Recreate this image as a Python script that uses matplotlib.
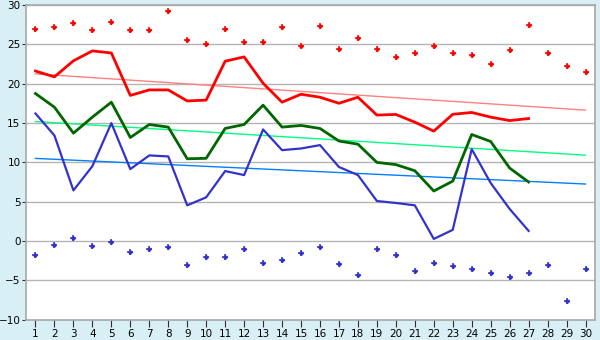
import matplotlib
matplotlib.use("Agg")
import matplotlib.pyplot as plt
import numpy as np

# Daily temperatures for one month
days = list(range(1, 31))

max_points = [27.0, 27.2, 27.7, 26.8, 27.8, 26.8, 26.8, 29.2, 25.6, 25.0,
              27.0, 25.3, 25.3, 27.2, 24.75, 27.3, 24.4, 25.8, 24.4, 23.35,
              23.9, 24.75, 23.9, 23.7, 22.5, 24.25, 27.5, 23.9, 22.2, 21.45]

min_points = [-1.8, -0.52, 0.37, -0.65, -0.13, -1.4, -1.02, -0.77, -3.06, -2.04,
              -2.04, -1.02, -2.8, -2.42, -1.53, -0.77, -2.93, -4.33, -1.02, -1.8,
              -3.8, -2.8, -3.18, -3.56, -4.07, -4.58, -4.07, -3.06, -7.63, -3.56]

high_line = [21.6, 20.86, 22.9, 24.16, 23.9, 18.5, 19.2, 19.2, 17.8, 17.9,
             22.85, 23.4, 20.05, 17.64, 18.65, 18.27, 17.5, 18.27, 16.0, 16.08,
             15.1, 13.96, 16.1, 16.33, 15.74, 15.3, 15.56]

mean_line = [18.74, 17.0, 13.7, 15.74, 17.64, 13.15, 14.8, 14.47, 10.44, 10.5,
             14.3, 14.8, 17.26, 14.47, 14.68, 14.3, 12.7, 12.3, 9.98, 9.7,
             8.92, 6.34, 7.6, 13.53, 12.64, 9.26, 7.49]

low_line = [16.2, 13.4, 6.42, 9.5, 14.98, 9.13, 10.87, 10.74, 4.52, 5.54,
            8.88, 8.37, 14.17, 11.54, 11.75, 12.18, 9.4, 8.37, 5.07, 4.82,
            4.52, 0.25, 1.4, 11.67, 7.36, 4.06, 1.27]

# Normal-value trend lines: value on the first and last day
trend_days = [1, 30]
high_trend = [21.24, 16.63]
mean_trend = [15.18, 10.9]
low_trend = [10.49, 7.23]

y_ticks = [-10, -5, 0, 5, 10, 15, 20, 25, 30]

plt.rcParams['font.family'] = ['DejaVu Sans']

fig = plt.figure(figsize=(6.0, 3.4), dpi=100, facecolor='#d9eff6')
ax = fig.add_axes([26 / 600, 1 - 319.5 / 340, 569 / 600, 314.5 / 340])
ax.set_facecolor('white')

ax.set_xlim(0.5, 30.5)
ax.set_ylim(-10, 30)
ax.set_yticks(y_ticks)
ax.set_yticklabels([str(v).replace('-', '\u2212') for v in y_ticks])
ax.set_xticks(days)
ax.yaxis.grid(True, color='#b4b4b4', linewidth=1)
ax.set_axisbelow(True)

for side in ax.spines.values():
    side.set_color('#a8a8a8')
    side.set_linewidth(1.2)

ax.tick_params(axis='y', length=3, color='#303030', labelsize=7.5, pad=1)
ax.tick_params(axis='x', length=5, color='#303030', labelsize=7.5, pad=2)

# Trend lines
ax.plot(trend_days, high_trend, color='#ff8080', linewidth=1)
ax.plot(trend_days, mean_trend, color='#00ff80', linewidth=1)
ax.plot(trend_days, low_trend, color='#0080ff', linewidth=1)

# Daily series
ax.plot(days[:len(high_line)], high_line, color='#ff0000', linewidth=2)
ax.plot(days[:len(mean_line)], mean_line, color='#006600', linewidth=2)
ax.plot(days[:len(low_line)], low_line, color='#3333cc', linewidth=1.6)

# Extremes: a small diamond with a cross through it
for values, colour in ((max_points, '#ff0000'), (min_points, '#3333cc')):
    ax.plot(days, values, linestyle='none', marker='D', markersize=2.8,
            color=colour, markeredgewidth=0)
    ax.plot(days, values, linestyle='none', marker='+', markersize=4.8,
            color=colour, markeredgewidth=1.1)

fig.savefig('out.png', dpi=100, facecolor=fig.get_facecolor())
